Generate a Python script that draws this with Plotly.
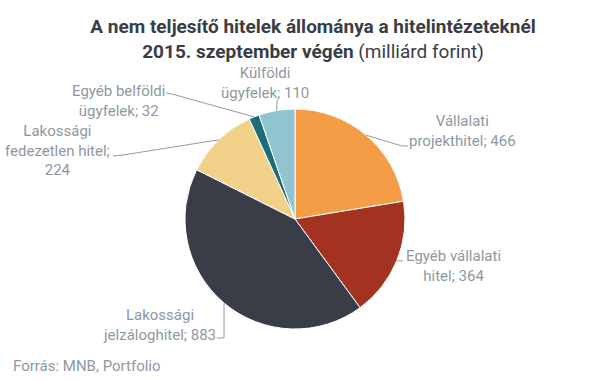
import math
import plotly.graph_objects as go

labels = ["Vállalati projekthitel", "Egyéb vállalati hitel", "Lakossági jelzáloghitel",
          "Lakossági fedezetlen hitel", "Egyéb belföldi ügyfelek", "Külföldi ügyfelek"]
label_text = ["Vállalati<br>projekthitel; 466", "Egyéb vállalati<br>hitel; 364",
              "Lakossági<br>jelzáloghitel; 883", "Lakossági<br>fedezetlen hitel;<br>224",
              "Egyéb belföldi<br>ügyfelek; 32", "Külföldi<br>ügyfelek; 110"]
values = [466, 364, 883, 224, 32, 110]
colors = ["#F59C46", "#A33221", "#393D47", "#F2D18A", "#1F6C79", "#8FC4D0"]

W, H = 607, 380
CX, CY, R = 295, 219, 110

# label block centres (px) and leader path points (px, from label side toward pie)
label_pos = [(462, 131), (453, 266), (159, 325), (57, 150), (118, 101), (265, 83)]
leader_pts = [[(408, 146), (402, 146)], [(403, 261)], [(217, 338), (224, 338)],
              [(113, 156), (123, 155)], [(166, 93), (172, 94)], [(277, 100)]]

def px(x):
    return x / W

def py(y):
    return 1 - y / H

fig = go.Figure(go.Pie(
    values=values, labels=labels, sort=False, direction="clockwise", rotation=0,
    marker=dict(colors=colors, line=dict(color="white", width=1)),
    textinfo="none", hoverinfo="label+value", showlegend=False,
    domain=dict(x=[px(CX - R), px(CX + R)], y=[py(CY + R), py(CY - R)]),
))

total = sum(values)
cum = 0
shapes = []
annotations = []
for i, v in enumerate(values):
    mid = (cum + v / 2) / total * 2 * math.pi
    cum += v
    ex = CX + R * math.sin(mid)
    ey = CY - R * math.cos(mid)
    pts = leader_pts[i] + [(ex, ey)]
    path = "M " + " L ".join(f"{px(a):.5f},{py(b):.5f}" for a, b in pts)
    shapes.append(dict(type="path", xref="paper", yref="paper", path=path,
                       line=dict(color="#9A9A9A", width=1)))
    lx, ly = label_pos[i]
    annotations.append(dict(x=px(lx), y=py(ly), xref="paper", yref="paper",
                            text=label_text[i], showarrow=False, xanchor="center",
                            yanchor="middle", align="center",
                            font=dict(family="Roboto, Arial, sans-serif", size=15, color="#8E98A3")))

annotations.append(dict(x=px(11), y=py(366), xref="paper", yref="paper",
                        text="Forrás: MNB, Portfolio", showarrow=False, xanchor="left",
                        yanchor="middle",
                        font=dict(family="Roboto, Arial, sans-serif", size=15, color="#8E98A3")))

fig.update_layout(
    width=W, height=H, margin=dict(l=0, r=0, t=0, b=0),
    paper_bgcolor="white", plot_bgcolor="white",
    title=dict(text="<b>A nem teljesítő hitelek állománya a hitelintézeteknél</b><br>"
                    "<b>2015. szeptember végén</b> (milliárd forint)",
               x=px(313), xanchor="center", y=py(33), yanchor="middle",
               font=dict(family="Roboto, sans-serif", size=19, color="#3A3D45")),
    shapes=shapes, annotations=annotations,
)

fig.write_html("out.html")
